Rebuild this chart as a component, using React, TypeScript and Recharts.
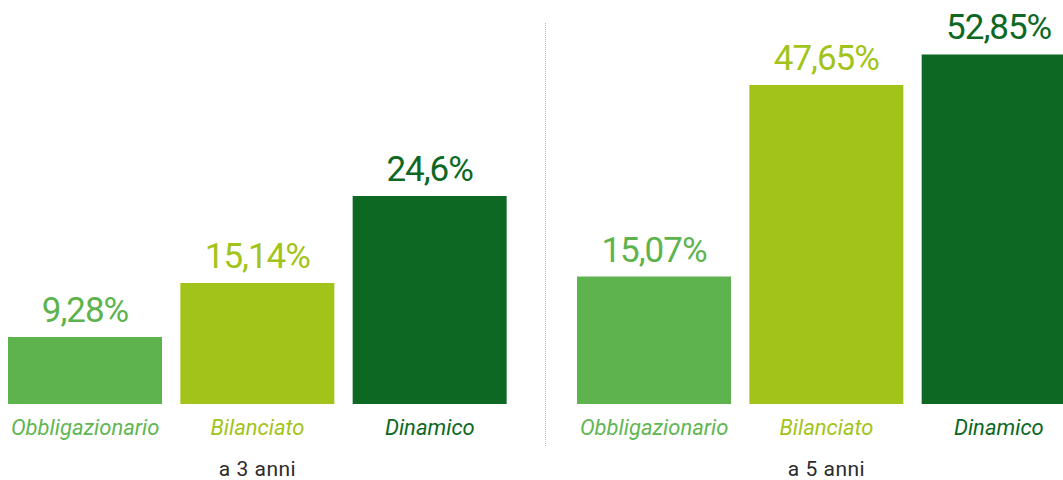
import React from 'react';
import { BarChart, Bar, XAxis, YAxis, Cell, LabelList } from 'recharts';

const categories = ['Obbligazionario', 'Bilanciato', 'Dinamico'];
const periods = ['a 3 anni', 'a 5 anni'];
const values3 = [9.28, 15.14, 24.6];
const values5 = [15.07, 47.65, 52.85];
const colors = ['#5eb34e', '#a2c41a', '#0c6823'];
const labelColors = ['#5fb652', '#a2c41a', '#0c6823'];

const fmt = (v: number) => String(v).replace('.', ',') + '%';

const FONT = 'Roboto, sans-serif';

function Panel({ values, period, domain, left }: { values: number[]; period: string; domain: [number, number]; left: number }) {
  const data = categories.map((c, i) => ({ name: c, value: values[i] }));
  const renderTick = (props: any) => {
    const { x, y, payload, index } = props;
    return (
      <g>
        <text x={x} y={y + 31} textAnchor="middle" fill={labelColors[index]} fontStyle="italic" fontSize={22} fontFamily={FONT}>
          {payload.value}
        </text>
        {index === 1 && (
          <text x={x} y={y + 72} textAnchor="middle" fill="#2b2b2b" fontSize={21} fontFamily={FONT} letterSpacing={0.5}>
            {period}
          </text>
        )}
      </g>
    );
  };
  const renderLabel = (p: any) => {
    const { x, y, width, index } = p;
    return (
      <text x={x + width / 2} y={y - 15} textAnchor="middle" fill={colors[index]} fontSize={35} fontFamily={FONT} letterSpacing={-1}>
        {fmt(values[index])}
      </text>
    );
  };
  return (
    <div style={{ position: 'absolute', left, top: 0 }}>
      <BarChart width={517} height={480} data={data} margin={{ top: 0, right: 0, bottom: 0, left: 0 }} barCategoryGap={0}>
        <XAxis dataKey="name" axisLine={false} tickLine={false} tickSize={0} tickMargin={0} height={76} interval={0} tick={renderTick} />
        <YAxis hide type="number" domain={domain} allowDataOverflow />
        <Bar dataKey={(d: any) => [domain[0], d.value]} barSize={154} isAnimationActive={false}>
          {data.map((d, i) => (
            <Cell key={d.name} fill={colors[i]} />
          ))}
          <LabelList content={renderLabel} />
        </Bar>
      </BarChart>
    </div>
  );
}

export default function App() {
  return (
    <div style={{ position: 'absolute', left: 0, top: 0, width: 1063, height: 480, overflow: 'hidden', background: '#fff' }}>
      <Panel values={values3} period={periods[0]} domain={[1.98, 45.94]} left={-1} />
      <div style={{ position: 'absolute', left: 545, top: 23, height: 423, borderLeft: '1px dotted #8fd49c' }} />
      <Panel values={values5} period={periods[1]} domain={[-6.6, 62.1]} left={568} />
    </div>
  );
}
